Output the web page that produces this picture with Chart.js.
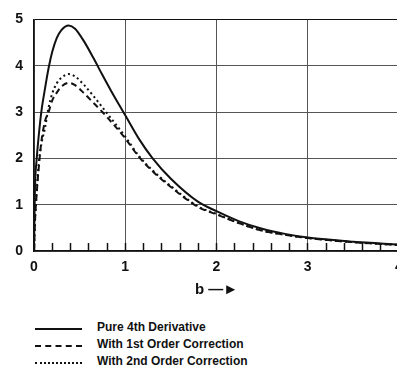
<!DOCTYPE html>
<html>
<head>
<meta charset="utf-8">
<script src="https://cdn.jsdelivr.net/npm/chart.js@4"></script>
<style>
  html, body { margin: 0; padding: 0; background: #fff; overflow: hidden; }
  #wrap { position: absolute; left: 0; top: 0; width: 399px; height: 300px; }
  .legend { position: absolute; left: 35px; font: bold 12px "Liberation Sans", Arial, sans-serif; color: #111; }
  .row { position: absolute; left: 0; white-space: nowrap; height: 16px; }
  .swatch { position: absolute; left: 0; top: 8px; width: 47px; border-top: 2px solid #111; }
  .row span { position: absolute; left: 62px; top: 0; }
</style>
</head>
<body>
<div id="wrap"><canvas id="chart"></canvas></div>
<div class="legend" style="top:320px">
  <div class="row" style="top:0"><div class="swatch"></div><span>Pure 4th Derivative</span></div>
  <div class="row" style="top:17px"><div class="swatch" style="border-top-style:dashed"></div><span>With 1st Order Correction</span></div>
  <div class="row" style="top:34px"><div class="swatch" style="border-top-style:dotted"></div><span>With 2nd Order Correction</span></div>
</div>
<script>
'use strict';

// ---- data ----
const bValues = [0, 0.01, 0.03, 0.05, 0.08, 0.12, 0.16, 0.2, 0.25, 0.3, 0.38, 0.45, 0.55, 0.65, 0.75, 0.85, 1.0, 1.15, 1.3, 1.5, 1.8, 2.0, 2.25, 2.5, 2.75, 3.0, 3.5, 4.0];
const pure4th  = [0, 1.3, 2.0, 2.45, 3.0, 3.5, 3.95, 4.3, 4.6, 4.77, 4.87, 4.8, 4.52, 4.17, 3.8, 3.44, 2.93, 2.42, 2.0, 1.56, 1.06, 0.86, 0.64, 0.48, 0.37, 0.29, 0.2, 0.14];
const firstCorr = [0, 0.6, 1.25, 1.75, 2.35, 2.8, 3.0, 3.25, 3.42, 3.55, 3.63, 3.58, 3.4, 3.2, 3.0, 2.78, 2.43, 2.03, 1.72, 1.38, 0.95, 0.79, 0.6, 0.44, 0.35, 0.28, 0.19, 0.13];
const secondCorr = [0, 0.6, 1.3, 1.85, 2.3, 2.65, 3.1, 3.4, 3.62, 3.74, 3.82, 3.77, 3.58, 3.35, 3.1, 2.85, 2.47, 2.05, 1.74, 1.4, 0.96, 0.8, 0.6, 0.44, 0.35, 0.28, 0.19, 0.13];
const xTickLabels = ['0', '1', '2', '3', '4'];
const yTickLabels = ['0', '1', '2', '3', '4', '5'];
// tick positions along the b axis (every 0.2)
const xTickValues = [0, 0.2, 0.4, 0.6, 0.8, 1, 1.2, 1.4, 1.6, 1.8, 2, 2.2, 2.4, 2.6, 2.8, 3, 3.2, 3.4, 3.6, 3.8, 4];

const pts = (ys) => bValues.map((b, i) => ({ x: b, y: ys[i] }));
const isMajor = (v) => xTickLabels.includes(String(v));

const line = (label, ys, dash, width) => ({
  label, data: pts(ys), borderColor: '#111', borderWidth: width,
  borderDash: dash, pointRadius: 0, fill: false, cubicInterpolationMode: 'monotone'
});

new Chart(document.getElementById('chart'), {
  type: 'line',
  data: {
    datasets: [
      line('Pure 4th Derivative', pure4th, [], 2),
      line('With 1st Order Correction', firstCorr, [6, 4], 2),
      line('With 2nd Order Correction', secondCorr, [2, 3], 2)
    ]
  },
  options: {
    responsive: true,
    maintainAspectRatio: false,
    animation: false,
    layout: { padding: { top: 4, right: 0, bottom: 0, left: 0 } },
    plugins: { legend: { display: false }, tooltip: { enabled: false } },
    scales: {
      x: {
        type: 'linear', min: 0, max: 4,
        afterFit: (s) => { s.paddingRight = 0; s.paddingLeft = 0; s.height = 49; },
        afterBuildTicks: (s) => { s.ticks = xTickValues.map(v => ({ value: v })); },
        ticks: {
          color: '#111', padding: 16, maxRotation: 0, autoSkip: false,
          callback: (v) => isMajor(v) ? String(v) : '',
          font: { family: 'Liberation Sans', weight: 'bold', size: 14 }
        },
        // major ticks get a grid line; every tick gets a short inward mark
        grid: {
          color: (c) => c.tick && isMajor(c.tick.value) ? '#555' : 'rgba(0,0,0,0)',
          lineWidth: 1, drawTicks: true, tickLength: -8, tickColor: '#111', tickWidth: 1.5
        },
        border: { color: '#111', width: 1.5 },
        title: { display: true, text: 'b \u2014\u25BA', color: '#111', padding: { top: 2, bottom: 1 },
                 font: { family: 'Liberation Sans', weight: 'bold', size: 15 } }
      },
      y: {
        min: 0, max: 5,
        afterFit: (s) => { s.width = 34; },
        afterBuildTicks: (s) => { s.ticks = yTickLabels.map(t => ({ value: Number(t) })); },
        ticks: { color: '#111', padding: 11, font: { family: 'Liberation Sans', weight: 'bold', size: 14 } },
        grid: { color: (c) => c.tick && c.tick.value === 5 ? '#111' : '#555', lineWidth: 1, drawTicks: false },
        border: { color: '#111', width: 1.5 }
      }
    }
  }
});
</script>
</body>
</html>
